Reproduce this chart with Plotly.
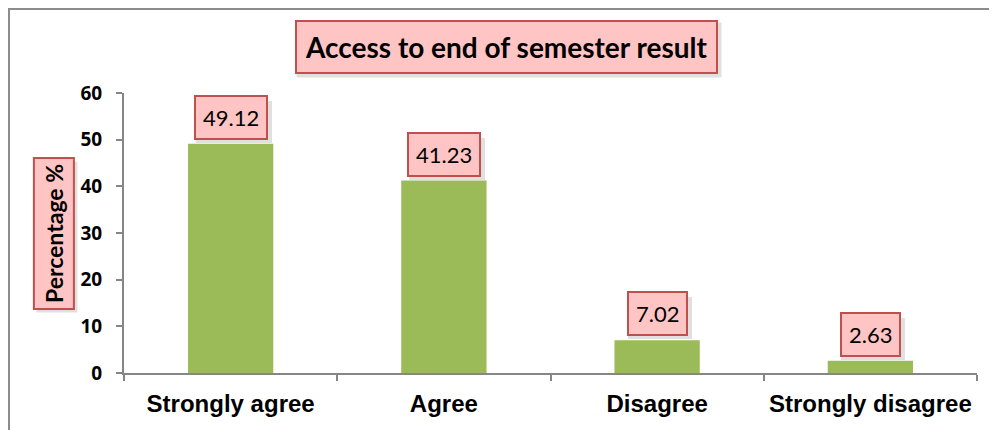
import plotly.graph_objects as go

categories = ["Strongly agree", "Agree", "Disagree", "Strongly disagree"]
values = [49.12, 41.23, 7.02, 2.63]
y_ticks = [0, 10, 20, 30, 40, 50, 60]
title_text = "Access to end of semester result"
y_title = "Percentage %"

BAR = "#9BBB59"
AXIS = "#868686"
BOX_BG = "#FFC4C4"
BOX_BORDER = "#C0504D"
SHADOW = "rgba(0,0,0,0.12)"

fig = go.Figure()
fig.add_trace(go.Bar(x=categories, y=values, marker=dict(color=BAR, line=dict(width=0)),
                     width=0.4, hoverinfo="x+y"))

annotations = []
# data labels with soft drop shadow (blank box behind)
for c, v in zip(categories, values):
    label = f"{v:.2f}"
    annotations.append(dict(x=c, y=v, xref="x", yref="y", text="&nbsp;", showarrow=False,
                            yanchor="bottom", yshift=1, xshift=3,
                            width=12 * len(label), height=26,
                            font=dict(family="Lato", size=22, color="rgba(0,0,0,0)"),
                            bgcolor=SHADOW, borderpad=8, borderwidth=0))
    annotations.append(dict(x=c, y=v, xref="x", yref="y", text=label, showarrow=False,
                            yanchor="bottom", yshift=4,
                            font=dict(family="Lato", size=22, color="#000000"),
                            bgcolor=BOX_BG, bordercolor=BOX_BORDER, borderwidth=2, borderpad=7))

# title box
annotations.append(dict(x=0.448, y=1.166, xref="paper", yref="paper", text="&nbsp;",
                        showarrow=False, xanchor="center", yanchor="middle", xshift=3, yshift=-3,
                        width=404, height=34,
                        font=dict(family="Lato", size=28, color="rgba(0,0,0,0)"),
                        bgcolor=SHADOW, borderpad=10))
annotations.append(dict(x=0.448, y=1.166, xref="paper", yref="paper", text=f"<b>{title_text}</b>",
                        showarrow=False, xanchor="center", yanchor="middle",
                        font=dict(family="Lato", size=28, color="#000000"),
                        bgcolor=BOX_BG, bordercolor=BOX_BORDER, borderwidth=2, borderpad=8))

# y title box
annotations.append(dict(x=-0.0827, y=0.498, xref="paper", yref="paper", text="&nbsp;",
                        showarrow=False, xanchor="center", yanchor="middle", textangle=-90,
                        xshift=3, yshift=-3, width=138, height=28,
                        font=dict(family="Lato", size=23, color="rgba(0,0,0,0)"),
                        bgcolor=SHADOW, borderpad=6))
annotations.append(dict(x=-0.0827, y=0.498, xref="paper", yref="paper", text=f"<b>{y_title}</b>",
                        showarrow=False, xanchor="center", yanchor="middle", textangle=-90,
                        font=dict(family="Lato", size=23, color="#000000"),
                        bgcolor=BOX_BG, bordercolor=BOX_BORDER, borderwidth=2, borderpad=5))

fig.update_layout(
    width=997, height=430,
    margin=dict(l=116, r=28, t=85, b=65),
    paper_bgcolor="white", plot_bgcolor="white",
    showlegend=False,
    annotations=annotations,
    bargap=0.6,
    shapes=[dict(type="rect", xref="paper", yref="paper", x0=-0.1348, x1=1.2, y0=-0.4, y1=1.3,
                 line=dict(color="#8C8C8C", width=2), layer="below")],
)
fig.update_xaxes(
    showline=True, linecolor=AXIS, linewidth=2,
    ticks="outside", tickson="boundaries", ticklen=6, tickcolor=AXIS, tickwidth=2,
    tickfont=dict(family="Liberation Sans", size=24, color="#000000"),
    showgrid=False, zeroline=False, ticklabelstandoff=8,
    tickprefix="<b>", ticksuffix="</b>",
)
fig.update_yaxes(
    range=[0, 60], tickvals=y_ticks, ticktext=[f"<b>{t}</b>" for t in y_ticks],
    showline=True, linecolor=AXIS, linewidth=2,
    ticks="outside", ticklen=6, tickcolor=AXIS, tickwidth=2,
    tickfont=dict(family="Open Sans", size=19, color="#000000"),
    showgrid=False, zeroline=False, ticklabelstandoff=10,
)

fig.write_html("out.html")
